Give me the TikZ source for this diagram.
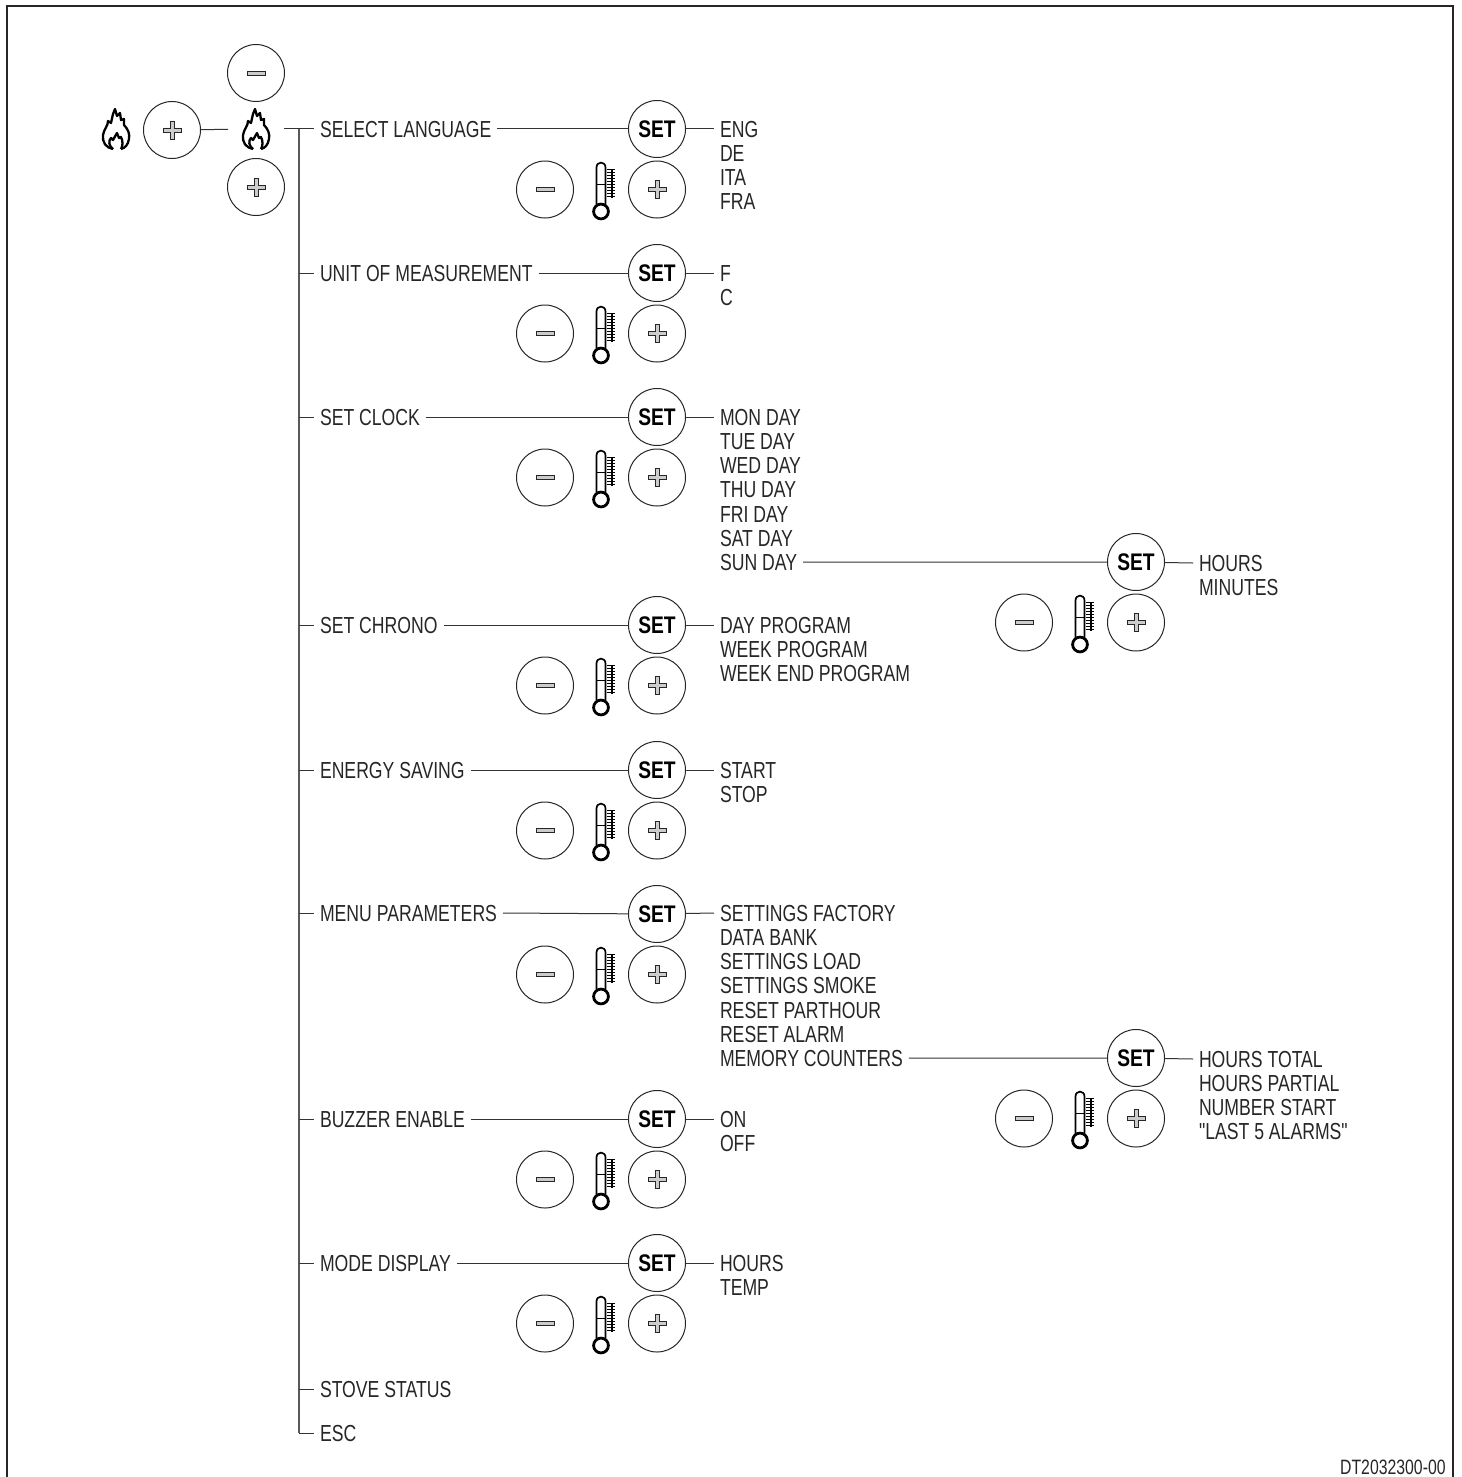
\documentclass[tikz,border=0pt]{standalone}
\usepackage{fontspec}
\setmainfont[FakeStretch=0.76,Ligatures=TeXOff]{Liberation Sans}
\newfontfamily\setfont[FakeStretch=0.8]{Liberation Sans}
\usetikzlibrary{positioning}

\tikzset{
    wire/.style={black!80, line width=0.5pt},
    trunk/.style={black!65, line width=1pt},
    frame/.style={black!85, line width=0.6pt},
    btn/.style={circle, draw=black!85, line width=0.5pt, inner sep=0pt, outer sep=0pt, minimum size=28.5pt},
    setbtn/.style={btn, font=\setfont\bfseries\fontsize{12}{13}\selectfont},
    plusbtn/.style={btn, path picture={
        \draw[shift={(path picture bounding box.center)}, black!85, fill=black!20, line width=0.4pt]
            (-2,-9) -- (2,-9) -- (2,-2) -- (9,-2) -- (9,2) -- (2,2) -- (2,9)
            -- (-2,9) -- (-2,2) -- (-9,2) -- (-9,-2) -- (-2,-2) -- cycle;
    }},
    minusbtn/.style={btn, path picture={
        \draw[shift={(path picture bounding box.center)}, black!85, fill=black!20, line width=0.4pt]
            (-9,-2) rectangle (9,2);
    }},
    flame/.style={inner sep=0pt, outer sep=0pt, minimum width=28pt, minimum height=23pt, path picture={
        \begin{scope}[shift={(path picture bounding box.center)}, black, line width=1.15pt, line join=round]
        \draw (-3,20) .. controls (-10,19) and (-14,13) .. (-13,6) .. controls (-12,0) and (-8,-3) .. (-8,-8)
            -- (-5,-6) -- (-3,-15) -- (-1,-20) -- (1,-13) -- (4,-16) -- (5,-9) -- (8,-10) -- (8,-4)
            .. controls (12,0) and (14,5) .. (13,10) .. controls (12,16) and (9,19) .. (5,20);
        \draw (-3,20) .. controls (-7,17) and (-8,12) .. (-5,9) -- (-3,11) -- (1,4) -- (3,9) -- (5,8)
            .. controls (7,12) and (7,17) .. (5,20);
        \end{scope}
    }},
    thermo/.style={inner sep=0pt, outer sep=0pt, minimum width=20pt, minimum height=33pt, path picture={
        \begin{scope}[shift={(path picture bounding box.center)}, black, line width=0.85pt]
        \draw (-4.5,15) -- (-4.5,-22) .. controls (-4.5,-28.5) and (4.5,-28.5) .. (4.5,-22) -- (4.5,15);
        \draw (-4.5,-5) -- (4.5,-5);
        \draw[line width=1.4pt] (0,22) circle[radius=3.7pt];
        \foreach \t in {0,1,...,9} {\draw[line width=0.45pt] (6,-20+3*\t) -- (14,-20+3*\t);}
        \draw[line width=1.4pt] (11,-20) -- (11,8);
        \end{scope}
    }},
    menu/.style={anchor=west, inner ysep=0pt, inner xsep=0pt, outer xsep=3pt, outer ysep=0pt,
        text height=8.3pt, text depth=0pt, text=black!85, font=\fontsize{11.6}{13}\selectfont},
    drawno/.style={anchor=east, inner sep=0pt, text=black!85, font=\fontsize{10.4}{12}\selectfont}
}

% SET button with the minus, thermometer and plus row below it
\newcommand{\setgroup}[3]{
    \node[setbtn] (#1set) at (#2,#3) {SET};
    \node[plusbtn, below=1.75pt of #1set] (#1plus) {};
    \node[thermo, left=3.75pt of #1plus] (#1temp) {};
    \node[minusbtn, left=3.75pt of #1temp] (#1minus) {};
}
% column of values, one line every 24.2 units
\newcommand{\valuelist}[4]{
    \foreach \txt [count=\i from 0] in {#4} {
        \node[menu] (#1\i) at (#2,#3+24.2*\i) {\txt};
    }
}

\begin{document}
\begin{tikzpicture}[x=0.5pt, y=-0.5pt]
\useasboundingbox (0,0) rectangle (1461,1477);
\draw[frame] (7,1477) -- (7,6) -- (1453,6) -- (1453,1477);

% entry into the menu
\node[flame] (flameout) at (116,129) {};
\node[plusbtn] (plusout) at (172,130) {};
\node[flame] (flamein) at (256,129) {};
\node[minusbtn] (minusin) at (256,73) {};
\node[plusbtn] (plusin) at (256,187) {};
\draw[wire] (plusout) -- (flamein);

% menu entries
\node[menu] (language) at (314,129) {SELECT LANGUAGE};
\node[menu] (unit) at (314,273) {UNIT OF MEASUREMENT};
\node[menu] (clock) at (314,417) {SET CLOCK};
\node[menu] (chrono) at (314,625) {SET CHRONO};
\node[menu] (saving) at (314,770) {ENERGY SAVING};
\node[menu] (params) at (314,913) {MENU PARAMETERS};
\node[menu] (buzzer) at (314,1119) {BUZZER ENABLE};
\node[menu] (display) at (314,1263) {MODE DISPLAY};
\node[menu] (status) at (314,1389) {STOVE STATUS};
\node[menu] (esc) at (314,1433) {ESC};

\setgroup{language}{657}{129}
\setgroup{unit}{657}{273}
\setgroup{clock}{657}{417}
\setgroup{chrono}{657}{625}
\setgroup{saving}{657}{770}
\setgroup{params}{657}{914}
\setgroup{buzzer}{657}{1119}
\setgroup{display}{657}{1263}
\setgroup{sunday}{1136}{562}
\setgroup{counters}{1136}{1058}

\valuelist{langval}{714}{129}{ENG,DE,ITA,FRA}
\valuelist{unitval}{714}{273}{F,C}
\valuelist{clockval}{714}{417}{MON DAY,TUE DAY,WED DAY,THU DAY,FRI DAY,SAT DAY,SUN DAY}
\valuelist{chronoval}{714}{625}{DAY PROGRAM,WEEK PROGRAM,WEEK END PROGRAM}
\valuelist{savingval}{714}{770}{START,STOP}
\valuelist{paramval}{714}{913}{SETTINGS FACTORY,DATA BANK,SETTINGS LOAD,SETTINGS SMOKE,RESET PARTHOUR,RESET ALARM,MEMORY COUNTERS}
\valuelist{buzzerval}{714}{1119}{ON,OFF}
\valuelist{displayval}{714}{1263}{HOURS,TEMP}
\valuelist{sunval}{1193}{563}{HOURS,MINUTES}
\valuelist{countval}{1193}{1059}{HOURS TOTAL,HOURS PARTIAL,NUMBER START,"LAST 5 ALARMS"}

% trunk and branches
\coordinate (trunktop) at (299,129);
\draw[wire] (flamein) -- (language.west);
\draw[trunk] (trunktop) -- (trunktop |- esc.west);
\draw[wire] (trunktop |- esc.west) -- (esc.west);
\foreach \entry in {unit,clock,chrono,saving,params,buzzer,display,status} {
    \draw[wire] (trunktop |- \entry.west) -- (\entry.west);
}

% from the entry through SET to its values
\foreach \entry/\val in {language/langval0,unit/unitval0,clock/clockval0,chrono/chronoval0,saving/savingval0,params/paramval0,buzzer/buzzerval0,display/displayval0} {
    \draw[wire] (\entry.east) -- (\entry set);
    \draw[wire] (\entry set) -- (\val.west);
}
\draw[wire] (clockval6.east) -- (sundayset);
\draw[wire] (sundayset) -- (sunval0.west);
\draw[wire] (paramval6.east) -- (countersset);
\draw[wire] (countersset) -- (countval0.west);

\node[drawno] (drawing) at (1446,1467) {DT2032300-00};
\end{tikzpicture}
\end{document}
